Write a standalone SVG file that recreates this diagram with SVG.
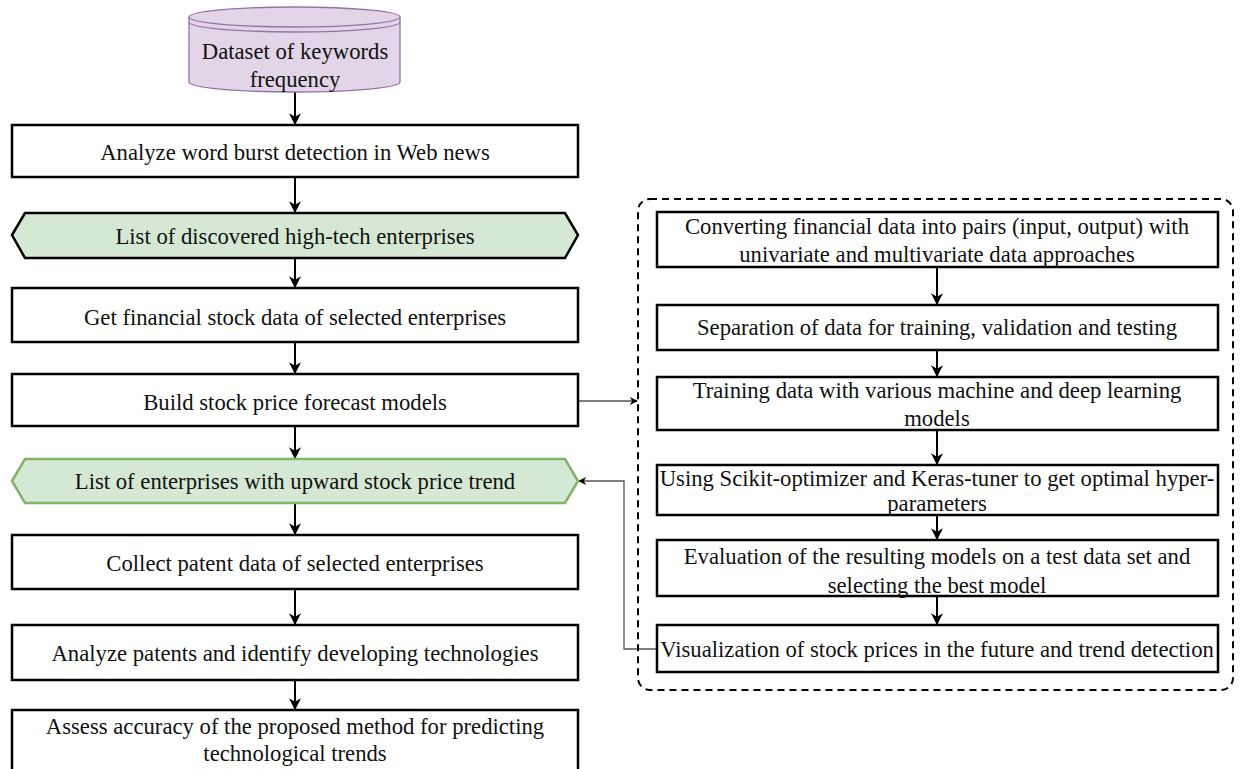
<svg xmlns="http://www.w3.org/2000/svg" width="1240" height="769" viewBox="0 0 1240 769">
<style>
.box{fill:#fff;stroke:#000;stroke-width:2.5}
.t{font-family:"Liberation Serif","Times New Roman",serif;font-size:22.7px;fill:#111;text-anchor:middle;dominant-baseline:central}
.c{stroke:#000;stroke-width:2;fill:none}
.g{stroke:#555;stroke-width:1.3;fill:none}
</style>
<defs>
<marker id="ah" viewBox="0 0 10 10" refX="9" refY="5" markerWidth="8" markerHeight="8" markerUnits="userSpaceOnUse" orient="auto">
<path d="M0,0 L10,5 L0,10 L3,5 Z" fill="#000"/>
</marker>
<marker id="ah2" viewBox="0 0 10 10" refX="9" refY="5" markerWidth="12" markerHeight="12" markerUnits="userSpaceOnUse" orient="auto">
<path d="M0,0 L10,5 L0,10 L3,5 Z" fill="#000"/>
</marker>
</defs>
<rect width="1240" height="769" fill="#fff"/>
<g id="connectors">
<line class="c" x1="295" y1="92" x2="295" y2="124" marker-end="url(#ah2)"/>
<line class="c" x1="295" y1="178" x2="295" y2="212" marker-end="url(#ah2)"/>
<line class="c" x1="295" y1="258" x2="295" y2="287" marker-end="url(#ah2)"/>
<line class="c" x1="295" y1="343" x2="295" y2="373" marker-end="url(#ah2)"/>
<line class="c" x1="295" y1="427" x2="295" y2="458" marker-end="url(#ah2)"/>
<line class="c" x1="295" y1="503" x2="295" y2="534" marker-end="url(#ah2)"/>
<line class="c" x1="295" y1="590" x2="295" y2="624" marker-end="url(#ah2)"/>
<line class="c" x1="295" y1="681" x2="295" y2="709" marker-end="url(#ah2)"/>
<line class="c" x1="937" y1="268" x2="937" y2="304" marker-end="url(#ah2)"/>
<line class="c" x1="937" y1="351" x2="937" y2="376" marker-end="url(#ah2)"/>
<line class="c" x1="937" y1="431" x2="937" y2="464" marker-end="url(#ah2)"/>
<line class="c" x1="937" y1="516" x2="937" y2="539" marker-end="url(#ah2)"/>
<line class="c" x1="937" y1="597" x2="937" y2="624" marker-end="url(#ah2)"/>
<line class="g" x1="578" y1="401" x2="637" y2="401" marker-end="url(#ah)"/>
<polyline class="g" points="657,649 624,649 624,481 579,481" marker-end="url(#ah)"/>
</g>
<g id="container">
<rect x="638" y="199" width="595" height="491" rx="12" fill="none" stroke="#000" stroke-width="2" stroke-dasharray="7,5"/>
</g>
<g id="dataset">
<path d="M189,17 L189,82 A105.5,10 0 0 0 400,82 L400,17 A105.5,10 0 0 0 189,17 Z" fill="#e1d5e7" stroke="#9673a6" stroke-width="1.3"/>
<path d="M189,17 A105.5,10 0 0 0 400,17 M189,22 A105.5,10 0 0 0 400,22" fill="none" stroke="#9673a6" stroke-width="1.3"/>
<text class="t" x="295" y="51">Dataset of keywords</text>
<text class="t" x="295" y="79">frequency</text>
</g>
<g id="n1">
<rect class="box" x="12" y="125" width="566" height="52"/>
<text class="t" x="295" y="152">Analyze word burst detection in Web news</text>
</g>
<g id="n2">
<polygon points="12,235 25,213 565,213 578,235 565,258 25,258" fill="#d5e8d4" stroke="#000" stroke-width="2.5"/>
<text class="t" x="295" y="236">List of discovered high-tech enterprises</text>
</g>
<g id="n3">
<rect class="box" x="12" y="288" width="566" height="54"/>
<text class="t" x="295" y="317">Get financial stock data of selected enterprises</text>
</g>
<g id="n4">
<rect class="box" x="12" y="374" width="566" height="52"/>
<text class="t" x="295" y="402">Build stock price forecast models</text>
</g>
<g id="n5">
<polygon points="12,481 25,459 565,459 578,481 565,503 25,503" fill="#d5e8d4" stroke="#82b366" stroke-width="2.5"/>
<text class="t" x="295" y="481">List of enterprises with upward stock price trend</text>
</g>
<g id="n6">
<rect class="box" x="12" y="535" width="566" height="54"/>
<text class="t" x="295" y="563">Collect patent data of selected enterprises</text>
</g>
<g id="n7">
<rect class="box" x="12" y="625" width="566" height="55"/>
<text class="t" x="295" y="653">Analyze patents and identify developing technologies</text>
</g>
<g id="n8">
<rect class="box" x="12" y="710" width="566" height="70"/>
<text class="t" x="295" y="726">Assess accuracy of the proposed method for predicting</text>
<text class="t" x="295" y="753">technological trends</text>
</g>
<g id="r1">
<rect class="box" x="657" y="212" width="561" height="55"/>
<text class="t" x="937" y="226">Converting financial data into pairs (input, output) with</text>
<text class="t" x="937" y="254">univariate and multivariate data approaches</text>
</g>
<g id="r2">
<rect class="box" x="657" y="305" width="561" height="45"/>
<text class="t" x="937" y="327">Separation of data for training, validation and testing</text>
</g>
<g id="r3">
<rect class="box" x="657" y="377" width="561" height="53"/>
<text class="t" x="937" y="390">Training data with various machine and deep learning</text>
<text class="t" x="937" y="418">models</text>
</g>
<g id="r4">
<rect class="box" x="657" y="465" width="561" height="50"/>
<text class="t" x="937" y="478">Using Scikit-optimizer and Keras-tuner to get optimal hyper-</text>
<text class="t" x="937" y="503">parameters</text>
</g>
<g id="r5">
<rect class="box" x="657" y="540" width="561" height="56"/>
<text class="t" x="937" y="556">Evaluation of the resulting models on a test data set and</text>
<text class="t" x="937" y="585">selecting the best model</text>
</g>
<g id="r6">
<rect class="box" x="657" y="625" width="561" height="47"/>
<text class="t" x="937" y="649">Visualization of stock prices in the future and trend detection</text>
</g>
</svg>
